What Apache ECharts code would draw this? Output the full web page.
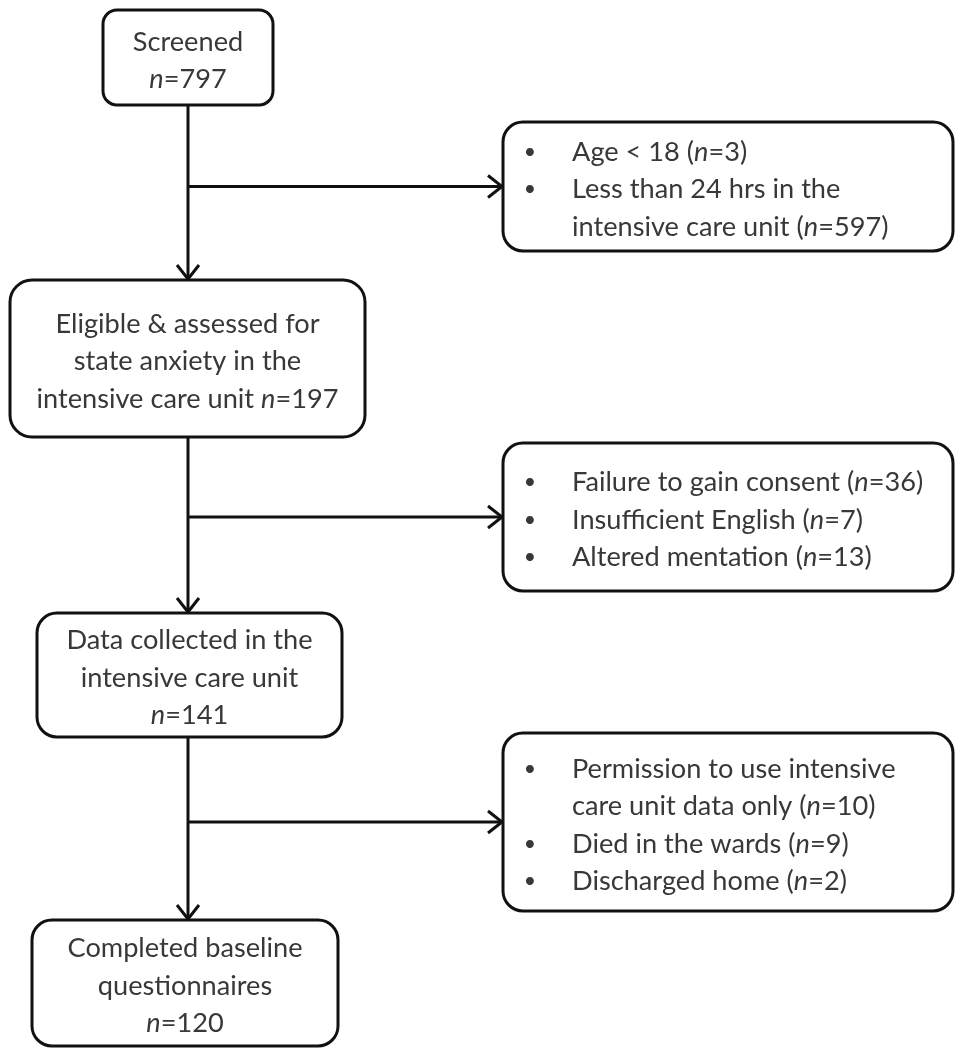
<!DOCTYPE html>
<html><head><meta charset="utf-8">
<script src="https://cdn.jsdelivr.net/npm/echarts@6/dist/echarts.min.js"></script>
<style>html,body{margin:0;padding:0;background:#fff}#c{width:955px;height:1050px}</style>
</head><body><div id="c"></div>
<script>
// ---------------- data ----------------
const mainSteps = [
  ['Screened', '{n}'],
  ['Eligible & assessed for', 'state anxiety in the', 'intensive care unit {n}'],
  ['Data collected in the', 'intensive care unit', '{n}'],
  ['Completed baseline', 'questionnaires', '{n}']
];
const mainCounts = [797, 197, 141, 120];
const exclusionReasons = [
  [['Age < 18 ({n})'], ['Less than 24 hrs in the', 'intensive care unit ({n})']],
  [['Failure to gain consent ({n})'], ['Insufficient English ({n})'], ['Altered mentation ({n})']],
  [['Permission to use intensive', 'care unit data only ({n})'], ['Died in the wards ({n})'], ['Discharged home ({n})']]
];
const exclusionCounts = [[3, 597], [36, 7, 13], [10, 9, 2]];

// ---------------- layout (page units) ----------------
const LAYOUT = {
  mainBoxes: [[103, 10, 273, 105], [10, 280, 365, 437], [37, 613, 342, 737], [32, 920, 338, 1046]],
  mainRadius: [14, 22, 20, 20],
  sideBoxes: [[503, 122, 953, 251], [503, 443, 953, 591], [503, 733, 953, 911]],
  sideRadius: 20,
  spineX: 188,
  lineH: 37.5,
  textDY: 3,
  bulletX: 530,
  textX: 572
};
const TXT = '#383838', INK = '#111';
const FONT = 'Lato';
const fs = (function () {
  const c = document.createElement('canvas').getContext('2d');
  c.font = '100px ' + FONT;
  const w = c.measureText('Failure to gain consent (n=36)').width;
  return Math.max(20, Math.min(32, 100 * 352 / w));
})();
const rich = { i: { fontStyle: 'italic', fontSize: fs, fontFamily: FONT, fill: TXT } };
const nTag = v => '{i|n}=' + v;

function rectOf(api, b) {
  const p0 = api.coord([b[0], b[1]]), p1 = api.coord([b[2], b[3]]);
  return { x: Math.min(p0[0], p1[0]), y: Math.min(p0[1], p1[1]), w: Math.abs(p1[0] - p0[0]), h: Math.abs(p1[1] - p0[1]) };
}
function textEl(t, x, y, align, size) {
  return { type: 'text', style: { text: t, x: x, y: y, align: align, verticalAlign: 'middle', fill: TXT, fontSize: size || fs, fontFamily: FONT, rich: rich } };
}

function renderMain(params, api) {
  const i = params.dataIndex;
  const r = rectOf(api, LAYOUT.mainBoxes[i]);
  const lines = mainSteps[i].map(s => s.replace('{n}', nTag(mainCounts[i])));
  const cy = r.y + r.h / 2 + LAYOUT.textDY;
  const ch = [{ type: 'rect', shape: { x: r.x, y: r.y, width: r.w, height: r.h, r: LAYOUT.mainRadius[i] },
    style: { fill: '#fff', stroke: INK, lineWidth: 3 } }];
  lines.forEach((t, k) => ch.push(textEl(t, r.x + r.w / 2, cy + (k - (lines.length - 1) / 2) * LAYOUT.lineH, 'center')));
  return { type: 'group', children: ch };
}

function renderSide(params, api) {
  const i = params.dataIndex;
  const r = rectOf(api, LAYOUT.sideBoxes[i]);
  const items = exclusionReasons[i];
  let total = 0; items.forEach(it => total += it.length);
  const cy = r.y + r.h / 2 + LAYOUT.textDY;
  const bx = api.coord([LAYOUT.bulletX, 0])[0], tx = api.coord([LAYOUT.textX, 0])[0];
  const ch = [{ type: 'rect', shape: { x: r.x, y: r.y, width: r.w, height: r.h, r: LAYOUT.sideRadius },
    style: { fill: '#fff', stroke: INK, lineWidth: 3 } }];
  let k = 0;
  items.forEach((it, j) => {
    it.forEach((ln, m) => {
      const y = cy + (k - (total - 1) / 2) * LAYOUT.lineH;
      if (m === 0) ch.push(textEl('•', bx, y, 'center', fs * 0.78));
      ch.push(textEl(ln.replace('{n}', nTag(exclusionCounts[i][j])), tx, y, 'left'));
      k++;
    });
  });
  return { type: 'group', children: ch };
}

function renderLinks(params, api) {
  const i = params.dataIndex;
  const a = LAYOUT.mainBoxes[i], b = LAYOUT.mainBoxes[i + 1], s = LAYOUT.sideBoxes[i];
  const top = api.coord([LAYOUT.spineX, a[3]]), bot = api.coord([LAYOUT.spineX, b[1]]);
  const by = (s[1] + s[3]) / 2;
  const br0 = api.coord([LAYOUT.spineX, by]), br1 = api.coord([s[0], by]);
  const st = { stroke: INK, lineWidth: 3, fill: null, lineJoin: 'miter' };
  const ah = 15, aw = 11;
  return { type: 'group', children: [
    { type: 'line', shape: { x1: top[0], y1: top[1], x2: bot[0], y2: bot[1] - 1 }, style: st },
    { type: 'polyline', shape: { points: [[bot[0] - aw, bot[1] - ah], [bot[0], bot[1] - 1], [bot[0] + aw, bot[1] - ah]] }, style: st },
    { type: 'line', shape: { x1: br0[0], y1: br0[1], x2: br1[0] - 1, y2: br1[1] }, style: st },
    { type: 'polyline', shape: { points: [[br1[0] - ah, br1[1] - aw], [br1[0] - 1, br1[1]], [br1[0] - ah, br1[1] + aw]] }, style: st }
  ] };
}

const chart = echarts.init(document.getElementById('c'), null, { renderer: 'canvas' });
chart.setOption({
  animation: false,
  backgroundColor: '#fff',
  grid: { left: 0, right: 0, top: 0, bottom: 0 },
  xAxis: { type: 'value', min: 0, max: 955, show: false },
  yAxis: { type: 'value', min: 0, max: 1050, inverse: true, show: false },
  series: [
    { type: 'custom', coordinateSystem: 'cartesian2d', renderItem: renderLinks, z: 1,
      data: mainCounts.slice(0, 3).map((v, i) => [i, 0]) },
    { type: 'custom', coordinateSystem: 'cartesian2d', renderItem: renderMain, z: 2,
      data: mainCounts.map((v, i) => [i, 0]) },
    { type: 'custom', coordinateSystem: 'cartesian2d', renderItem: renderSide, z: 2,
      data: exclusionCounts.map((v, i) => [i, 0]) }
  ]
});
</script></body></html>
